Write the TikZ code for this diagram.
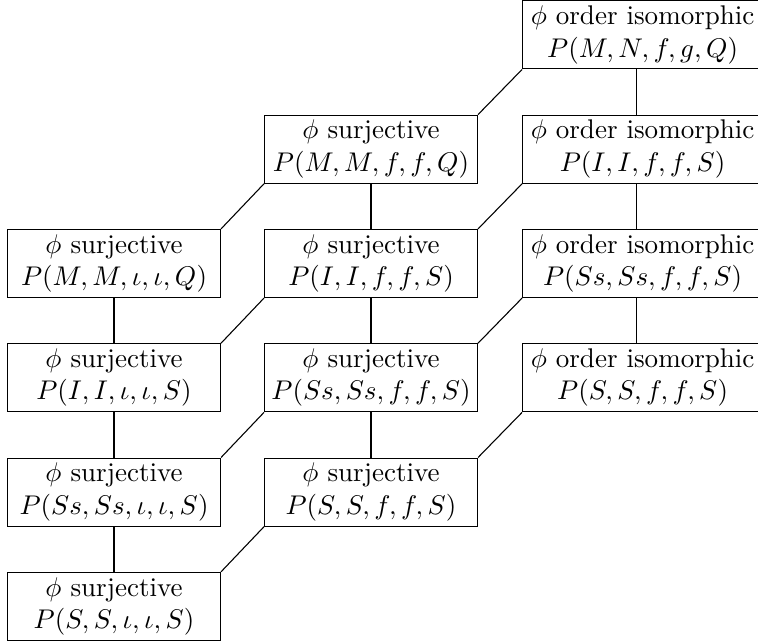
\documentclass[tikz,border=0pt]{standalone}
\usepackage{amsmath,amssymb}
\usetikzlibrary{positioning}

\begin{document}
\begin{tikzpicture}[
    node distance=16.7pt and 15.9pt,
    every node/.style={font=\normalsize},
    box/.style={rectangle, draw, align=center, minimum width=78.8pt, minimum height=25.2pt, inner sep=1pt},
    widebox/.style={box, minimum width=88.8pt},
    link/.style={line width=0.4pt},
]
\useasboundingbox (0,0) rectangle (280.5pt,-237.2pt);

% Left column (iota maps)
\node[box, anchor=north west] (a2) at (2.6pt,-84.7pt) {$\phi$ surjective\\$P(M,M,\iota,\iota,Q)$};
\node[box, below=of a2] (a3) {$\phi$ surjective\\$P(I,I,\iota,\iota,S)$};
\node[box, below=of a3] (a4) {$\phi$ surjective\\$P(Ss,Ss,\iota,\iota,S)$};
\node[box, below=of a4] (a5) {$\phi$ surjective\\$P(S,S,\iota,\iota,S)$};

% Middle column
\node[box, above right=16.7pt and 15.9pt of a2] (b1) {$\phi$ surjective\\$P(M,M,f,f,Q)$};
\node[box, below=of b1] (b2) {$\phi$ surjective\\$P(I,I,f,f,S)$};
\node[box, below=of b2] (b3) {$\phi$ surjective\\$P(Ss,Ss,f,f,S)$};
\node[box, below=of b3] (b4) {$\phi$ surjective\\$P(S,S,f,f,S)$};

% Right column (runs past the edge)
\node[widebox, above right=16.7pt and 16.3pt of b1] (c0) {$\phi$ order isomorphic\\$P(M,N,f,g,Q)$};
\node[widebox, below=of c0] (c1) {$\phi$ order isomorphic\\$P(I,I,f,f,S)$};
\node[widebox, below=of c1] (c2) {$\phi$ order isomorphic\\$P(Ss,Ss,f,f,S)$};
\node[widebox, below=of c2] (c3) {$\phi$ order isomorphic\\$P(S,S,f,f,S)$};

% Vertical links
\draw[link] (a2) -- (a3);
\draw[link] (a3) -- (a4);
\draw[link] (a4) -- (a5);
\draw[link] (b1) -- (b2);
\draw[link] (b2) -- (b3);
\draw[link] (b3) -- (b4);
\draw[link] ([xshift=-2.2pt]c0.south) -- ([xshift=-2.2pt]c1.north);
\draw[link] ([xshift=-2.2pt]c1.south) -- ([xshift=-2.2pt]c2.north);
\draw[link] ([xshift=-2.2pt]c2.south) -- ([xshift=-2.2pt]c3.north);

% Diagonal links
\draw[link] (a2.north east) -- (b1.south west);
\draw[link] (a3.north east) -- (b2.south west);
\draw[link] (a4.north east) -- (b3.south west);
\draw[link] (a5.north east) -- (b4.south west);
\draw[link] (b1.north east) -- (c0.south west);
\draw[link] (b2.north east) -- (c1.south west);
\draw[link] (b3.north east) -- (c2.south west);
\draw[link] (b4.north east) -- (c3.south west);

\end{tikzpicture}
\end{document}
